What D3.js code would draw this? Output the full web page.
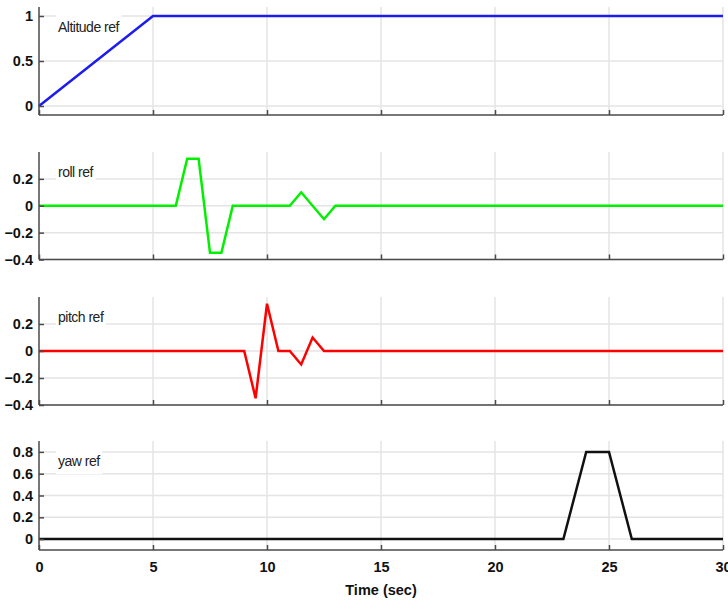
<!DOCTYPE html>
<html lang="en">

<head>
    <meta charset="utf-8">
    <title>Reference signals</title>
    <script src="https://d3js.org/d3.v7.min.js"></script>
    <style>
        body { margin: 0; background: white; }
        .tick-label { font-family: "Liberation Sans", Arial, sans-serif; font-weight: bold; font-size: 14.5px; fill: #111; }
        .panel-label { font-family: "Liberation Sans", Arial, sans-serif; font-size: 14px; letter-spacing: -0.5px; fill: #222; }
    </style>
</head>

<body>
    <div id="chart"></div>

    <script>
        // time axis (seconds)
        var timeTicks = [0, 5, 10, 15, 20, 25, 30];

        // altitude reference
        var altTime = [0, 5, 30];
        var altValue = [0, 1, 1];

        // roll reference
        var rollTime = [0, 6, 6.5, 7, 7.5, 8, 8.5, 11, 11.5, 12.5, 13, 30];
        var rollValue = [0, 0, 0.35, 0.35, -0.35, -0.35, 0, 0, 0.1, -0.1, 0, 0];

        // pitch reference
        var pitchTime = [0, 9, 9.5, 10, 10.5, 11, 11.5, 12, 12.5, 30];
        var pitchValue = [0, 0, -0.35, 0.35, 0, 0, -0.1, 0.1, 0, 0];

        // yaw reference
        var yawTime = [0, 23, 24, 25, 26, 30];
        var yawValue = [0, 0, 0.8, 0.8, 0, 0];

        // y tick labels per panel
        var altTicks = [0, 0.5, 1];
        var rollTicks = [-0.4, -0.2, 0, 0.2];
        var pitchTicks = [-0.4, -0.2, 0, 0.2];
        var yawTicks = [0, 0.2, 0.4, 0.6, 0.8];

        var width = 728, height = 606;
        var left = 39, right = 723;

        var svg = d3.select("#chart")
            .append("svg")
            .attr("width", width)
            .attr("height", height);

        var x = d3.scaleLinear().domain([0, 30]).range([left, right]);

        // one entry per subplot, layout is separate from the data
        var panels = [
            { name: "Altitude ref", t: altTime, v: altValue, ticks: altTicks, dom: [-0.1, 1.1], top: 7, bottom: 115, color: "#1c1cf0" },
            { name: "roll ref", t: rollTime, v: rollValue, ticks: rollTicks, dom: [-0.4, 0.4], top: 152, bottom: 259.5, color: "#00f000" },
            { name: "pitch ref", t: pitchTime, v: pitchValue, ticks: pitchTicks, dom: [-0.4, 0.4], top: 297, bottom: 405, color: "#ff0000" },
            { name: "yaw ref", t: yawTime, v: yawValue, ticks: yawTicks, dom: [-0.1, 0.9], top: 441, bottom: 550, color: "#111111" }
        ];

        panels.forEach(function (p, idx) {
            var y = d3.scaleLinear().domain(p.dom).range([p.bottom, p.top]);
            var g = svg.append("g");

            // grid lines
            g.selectAll(".vgrid")
                .data(timeTicks.slice(1))
                .enter()
                .append("line")
                .attr("x1", d => x(d)).attr("x2", d => x(d))
                .attr("y1", p.top).attr("y2", p.bottom)
                .attr("stroke", "#e4e4e4")
                .attr("stroke-width", 1.5);

            g.selectAll(".hgrid")
                .data(p.ticks)
                .enter()
                .append("line")
                .attr("x1", left).attr("x2", right)
                .attr("y1", d => y(d)).attr("y2", d => y(d))
                .attr("stroke", "#e4e4e4")
                .attr("stroke-width", 1.5);

            // label sits on a white box that hides the grid behind it
            var lbl = g.append("text")
                .attr("class", "panel-label")
                .attr("x", 58)
                .attr("y", p.top + 25)
                .text(p.name);
            var bb = lbl.node().getBBox();
            g.insert("rect", "text")
                .attr("x", bb.x - 2).attr("y", bb.y - 4)
                .attr("width", bb.width + 4).attr("height", bb.height + 9)
                .attr("fill", "white");

            // the signal
            var pts = p.t.map((t, i) => [t, p.v[i]]);
            var line = d3.line().x(d => x(d[0])).y(d => y(d[1]));
            g.append("path")
                .datum(pts)
                .attr("d", line)
                .attr("fill", "none")
                .attr("stroke", p.color)
                .attr("stroke-width", 2.5)
                .attr("stroke-linejoin", "miter");

            // axes: left spine with inward ticks, bottom spine with upward ticks
            var yAxis = d3.axisLeft(y).tickValues(p.ticks).tickSize(-5).tickPadding(6).tickFormat(d3.format(""));
            var ya = g.append("g").attr("transform", "translate(" + left + ",0)").call(yAxis);
            ya.select(".domain").attr("d", "M0," + p.top + "V" + p.bottom);

            var xAxis = d3.axisBottom(x).tickValues(timeTicks).tickSize(-5).tickPadding(12)
                .tickFormat(idx === panels.length - 1 ? d3.format("") : "");
            var xa = g.append("g").attr("transform", "translate(0," + p.bottom + ")").call(xAxis);
            xa.select(".domain").attr("d", "M" + left + ",0H" + right);

            [ya, xa].forEach(function (a) {
                a.attr("font-size", null).attr("font-family", null);
                a.selectAll(".domain").attr("stroke", "#4a4a4a").attr("stroke-width", 1.5);
                a.selectAll(".tick line").attr("stroke", "#4a4a4a").attr("stroke-width", 1.5);
                a.selectAll(".tick text").attr("class", "tick-label");
            });
            xa.selectAll(".tick text").attr("dy", "0.71em");
        });

        // x axis title
        svg.append("text")
            .attr("class", "tick-label")
            .attr("x", (left + right) / 2)
            .attr("y", 595)
            .attr("text-anchor", "middle")
            .text("Time (sec)");
    </script>
</body>
</html>
